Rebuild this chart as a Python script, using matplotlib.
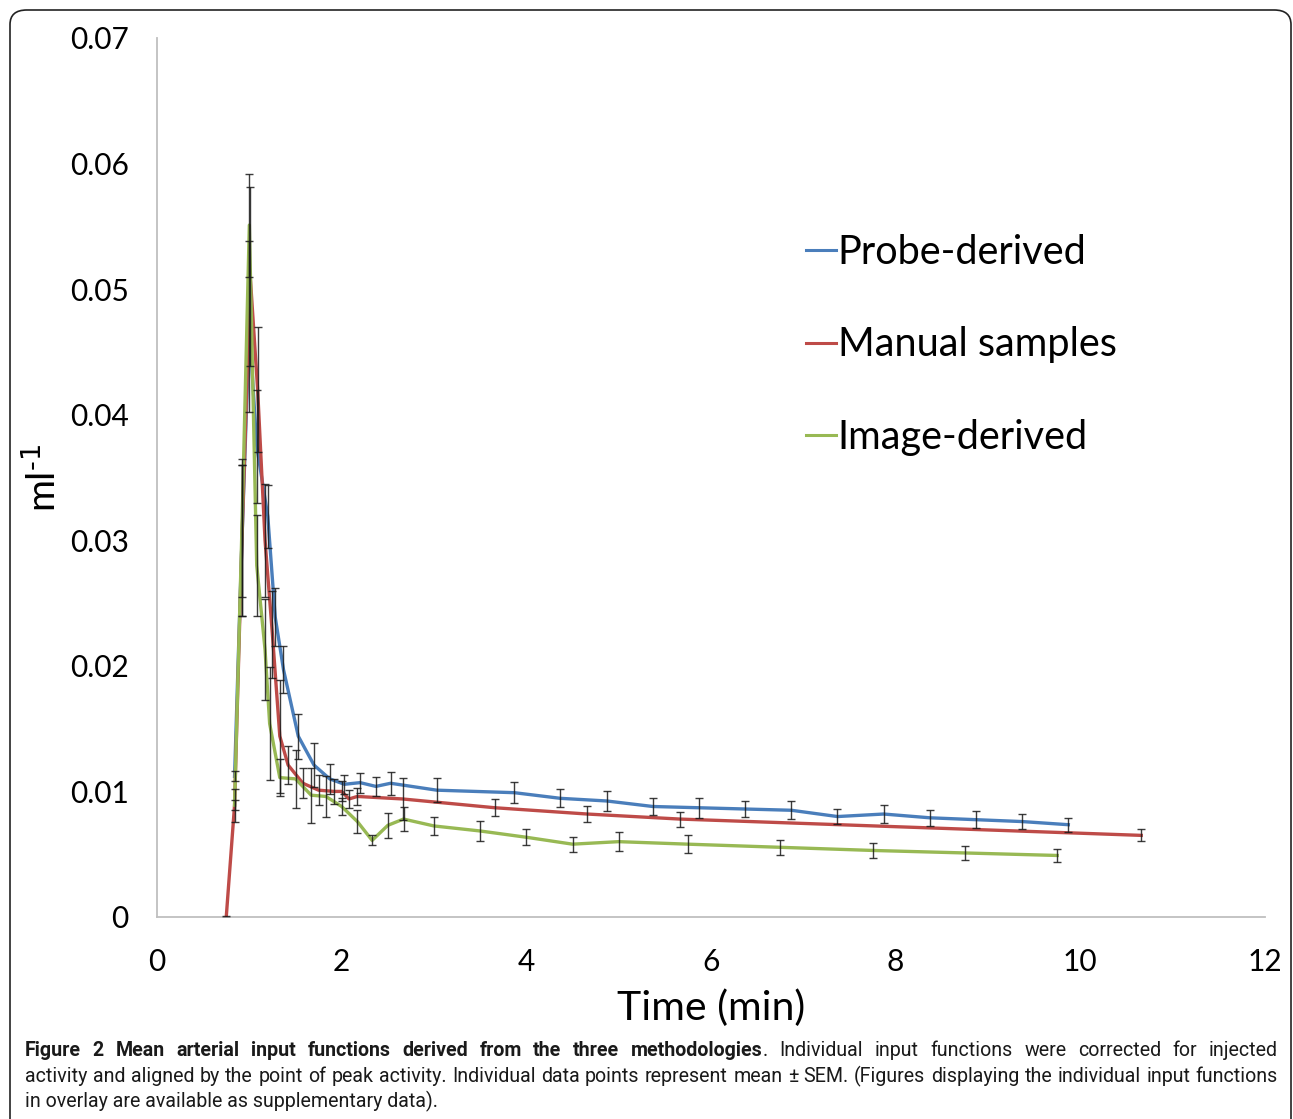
import matplotlib
matplotlib.use("Agg")
import matplotlib.pyplot as plt
from matplotlib.patches import FancyBboxPatch
from matplotlib.lines import Line2D

# ---------------- data ----------------
probe_t = [0.84, 0.92, 1.0, 1.08, 1.2, 1.28, 1.37, 1.53, 1.7, 1.87, 2.03, 2.2, 2.37, 2.53,
           3.03, 3.87, 4.37, 4.87, 5.37, 5.87, 6.37, 6.87, 7.37, 7.87, 8.37, 8.87, 9.37, 9.87]
probe_y = [0.0112, 0.030, 0.047, 0.0375, 0.0319, 0.0239, 0.0197, 0.0144, 0.0121, 0.0110,
           0.01057, 0.0107, 0.0104, 0.01065, 0.0101, 0.0099, 0.00945, 0.00924, 0.0088,
           0.0087, 0.0086, 0.0085, 0.0080, 0.0082, 0.0079, 0.00775, 0.0076, 0.00735]
probe_e = [0.0004, 0.006, 0.0068, 0.0045, 0.0025, 0.0023, 0.0019, 0.0018, 0.00175, 0.0012,
           0.00077, 0.0008, 0.00077, 0.00093, 0.00093, 0.00086, 0.00072, 0.00077, 0.0007,
           0.00078, 0.00066, 0.0007, 0.00058, 0.00068, 0.00062, 0.00069, 0.00057, 0.00056]

manual_t = [0.75, 0.84, 0.92, 1.01, 1.09, 1.17, 1.25, 1.33, 1.42, 1.58, 1.75, 1.92, 2.0,
            2.08, 2.17, 2.66, 3.66, 4.66, 5.66, 10.66]
manual_y = [0.0, 0.0089, 0.030, 0.051, 0.042, 0.0300, 0.0225, 0.0144, 0.0121, 0.01065,
            0.0101, 0.0100, 0.0100, 0.0094, 0.0096, 0.0094, 0.0087, 0.0082, 0.0078, 0.0065]
manual_e = [0.0001, 0.0013, 0.006, 0.0071, 0.005, 0.0045, 0.0035, 0.0045, 0.0015, 0.0012,
            0.0012, 0.0010, 0.0008, 0.0007, 0.0007, 0.00166, 0.00066, 0.00062, 0.0006, 0.00048]

image_t = [0.84, 0.92, 1.0, 1.08, 1.17, 1.22, 1.33, 1.5, 1.67, 1.83, 2.0, 2.17, 2.33, 2.5,
           2.67, 3.0, 3.5, 4.0, 4.5, 5.0, 5.75, 6.75, 7.75, 8.75, 9.75]
image_y = [0.0089, 0.031, 0.0551, 0.028, 0.0213, 0.0154, 0.0111, 0.0110, 0.0097, 0.0096,
           0.0088, 0.0076, 0.0061, 0.0073, 0.0078, 0.00725, 0.00685, 0.00635, 0.0058,
           0.0060, 0.0058, 0.00555, 0.0053, 0.0051, 0.0049]
image_e = [0.0004, 0.0055, 0.0041, 0.004, 0.004, 0.0045, 0.0015, 0.0023, 0.0022, 0.0016,
           0.0007, 0.0009, 0.0004, 0.00098, 0.00095, 0.00074, 0.00076, 0.00062, 0.00061,
           0.00076, 0.0007, 0.00062, 0.00062, 0.00054, 0.00052]

series_names = ["Probe-derived", "Manual samples", "Image-derived"]
series_colors = ["#4A7EBB", "#BE4B48", "#98B954"]
x_ticks = [0, 2, 4, 6, 8, 10, 12]
y_ticks = [0, 0.01, 0.02, 0.03, 0.04, 0.05, 0.06, 0.07]
y_ticklabels = ["0", "0.01", "0.02", "0.03", "0.04", "0.05", "0.06", "0.07"]

# ---------------- figure ----------------
plt.rcParams['font.family'] = ['Lato', 'DejaVu Sans']
plt.rcParams['mathtext.default'] = 'regular'

W, H = 1293, 1119
fig = plt.figure(figsize=(W / 100, H / 100), dpi=100)

# outer rounded frame
frame = FancyBboxPatch((10 / W, -20 / H), (1291 - 10) / W, (H + 20 - 10) / H,
                       boxstyle="round,pad=0,rounding_size=0.013",
                       transform=fig.transFigure, fill=False, edgecolor="#222222",
                       linewidth=1.2, clip_on=False)
fig.patches.append(frame)

ax = fig.add_axes([157 / W, 1 - 917 / H, (1265 - 157) / W, (917 - 38) / H])
ax.set_xlim(0, 12)
ax.set_ylim(0, 0.07)
for s in ["top", "right"]:
    ax.spines[s].set_visible(False)
for s in ["left", "bottom"]:
    ax.spines[s].set_color("#BFBFBF")
    ax.spines[s].set_linewidth(1.3)

all_t = [probe_t, manual_t, image_t]
all_y = [probe_y, manual_y, image_y]
all_e = [probe_e, manual_e, image_e]
for t, y, name, c in zip(all_t, all_y, series_names, series_colors):
    ax.plot(t, y, color=c, linewidth=2.4, label=name, zorder=3, solid_joinstyle="round")
for t, y, e in zip(all_t, all_y, all_e):
    ax.errorbar(t, y, yerr=e, fmt="none", ecolor="#1a1a1a", elinewidth=1.0,
                capsize=3, capthick=1.0, zorder=4, alpha=0.85)

ax.set_xticks(x_ticks)
ax.set_xticklabels([str(v) for v in x_ticks])
ax.set_yticks(y_ticks)
ax.set_yticklabels(y_ticklabels)
ax.tick_params(axis="both", length=0, labelsize=21.5)
ax.tick_params(axis="x", pad=22)
ax.tick_params(axis="y", pad=20.5)

ax.set_xlabel("Time (min)", fontsize=29.5, labelpad=10)
ax.set_ylabel(r"ml$^{\text{-1}}$", fontsize=28)
ax.yaxis.set_label_coords(-0.085, 0.5)

handles = [Line2D([0], [0], color=c, linewidth=2.2) for c in series_colors]
leg = ax.legend(handles, series_names, loc="upper left",
                bbox_to_anchor=(0.5715, 0.795), frameon=False, fontsize=28.5,
                handlelength=0.75, handletextpad=0.05, labelspacing=1.4,
                borderaxespad=0)

# ---------------- caption ----------------
line1 = [("Figure", "bold"), ("2", "bold"), ("Mean", "bold"), ("arterial", "bold"),
         ("input", "bold"), ("functions", "bold"), ("derived", "bold"), ("from", "bold"),
         ("the", "bold"), ("three", "bold"), ("methodologies", "bold", "."),
         ("Individual", "normal"), ("input", "normal"), ("functions", "normal"),
         ("were", "normal"), ("corrected", "normal"), ("for", "normal"),
         ("injected", "normal")]
line2 = ("activity and aligned by the point of peak activity. Individual data points represent "
         "mean \u00b1 SEM. (Figures displaying the individual input functions")
line3 = "in overlay are available as supplementary data)."

cap_family = ['Roboto', 'DejaVu Sans']
x_left, x_right = 25, 1278
y1, y2, y3 = 1050, 1076, 1101
cap_color = "#1a1a1a"

fig.canvas.draw()
r = fig.canvas.get_renderer()


def width(s, weight, fs):
    t = fig.text(0, 0, s, fontsize=fs, fontweight=weight, family=cap_family)
    w = t.get_window_extent(r).width
    t.remove()
    return w


# choose font size so line 2 natural width is close to the target width
fs0 = 12.0
w_nat = width(line2, "normal", fs0)
cap_fs = fs0 * (x_right - x_left) / w_nat * 0.985


def place_justified(tokens, ypix):
    widths = [[width(s, wt, cap_fs) for s, wt in word] for word in tokens]
    total = sum(sum(w) for w in widths)
    gap = (x_right - x_left - total) / (len(tokens) - 1)
    x = x_left
    for word, ws in zip(tokens, widths):
        for (s, wt), w in zip(word, ws):
            fig.text(x / W, 1 - ypix / H, s, fontsize=cap_fs, fontweight=wt,
                     family=cap_family, va="center", ha="left", color=cap_color)
            x += w
        x += gap


tok1 = []
for item in line1:
    if len(item) == 3:
        tok1.append([(item[0], item[1]), (item[2], "normal")])
    else:
        tok1.append([(item[0], item[1])])
place_justified(tok1, y1)
place_justified([[(w, "normal")] for w in line2.split(" ")], y2)
fig.text(x_left / W, 1 - y3 / H, line3, fontsize=cap_fs, family=cap_family,
         va="center", ha="left", color=cap_color)

fig.savefig("out.png", dpi=100)
